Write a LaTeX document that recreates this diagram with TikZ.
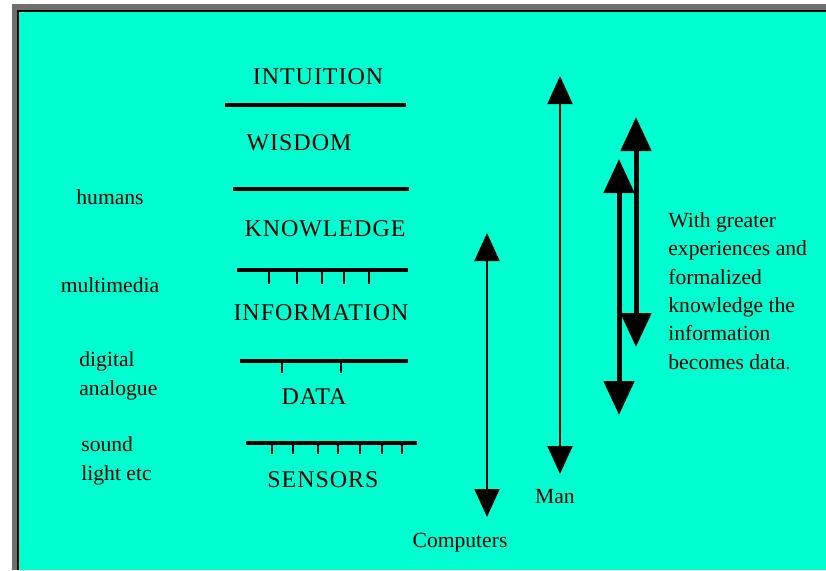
\documentclass[tikz,border=0pt]{standalone}
\usepackage{fontspec}
\setmainfont{Liberation Serif}
\newfontfamily\capsfont[LetterSpace=4]{Liberation Serif}
\usetikzlibrary{arrows.meta}
\definecolor{screencyan}{RGB}{0,255,208}
\definecolor{framegray}{RGB}{110,110,110}
\tikzset{
  layer/.style={font=\capsfont\fontsize{12}{14}\selectfont, inner sep=0pt},
  note/.style={font=\fontsize{10.8}{14.2}\selectfont, inner sep=0pt, align=left},
  bar/.style={line width=2pt},
  scaletick/.style={line width=0.75pt},
  thin arrow/.style={line width=1pt, {Triangle[length=14pt,width=12.5pt]}-{Triangle[length=14pt,width=12.5pt]}},
  thick arrow/.style={line width=2.5pt, {Triangle[length=17pt,width=15pt]}-{Triangle[length=17pt,width=15pt]}}
}
\begin{document}
\begin{tikzpicture}[x=0.5pt,y=-0.5pt]
  \useasboundingbox (0,0) rectangle (826,570);
  % window frame
  \fill[white] (0,0) rectangle (826,570);
  \fill[framegray] (12,4) rectangle (826,570);
  \fill[black] (17,10) rectangle (826,570);
  \fill[screencyan] (19,12) rectangle (826,570);

  % levels
  \node[layer] (intuition) at (318,77) {INTUITION};
  \draw[bar] (225,105) -- (406,105);
  \node[layer] (wisdom) at (299,143) {WISDOM};
  \draw[bar] (233,189) -- (409,189);
  \node[layer] (knowledge) at (325,229) {KNOWLEDGE};
  \draw[bar] (237,270) -- (408,270);
  \foreach \x in {269,297,322,344,369}
    \draw[scaletick] (\x,270) -- (\x,284);
  \node[layer] (information) at (321,313) {INFORMATION};
  \draw[bar] (240,361) -- (408,361);
  \foreach \x in {282,341}
    \draw[scaletick] (\x,361) -- (\x,373);
  \node[layer] (data) at (314,397) {DATA};
  \draw[bar] (246,443) -- (417,443);
  \foreach \x in {272,293,318,338,360,382,402}
    \draw[scaletick] (\x,443) -- (\x,454);
  \node[layer] (sensors) at (323,480) {SENSORS};

  % left side
  \node[note] (humans) at (110,197) {humans};
  \node[note] (multimedia) at (110,285) {multimedia};
  \node[note, anchor=west] (digital) at (79,376) {digital\\analogue};
  \node[note, anchor=west] (sound) at (81,461) {sound\\light etc};

  % arrows
  \coordinate (comptop) at (487,233);
  \coordinate (compbot) at (487,517);
  \draw[thin arrow] (comptop) -- (compbot);
  \node[note] (computers) at (460,543) {Computers};
  \coordinate (mantop) at (560,76);
  \coordinate (manbot) at (560,474);
  \draw[thin arrow] (mantop) -- (manbot);
  \node[note] (man) at (555,497) {Man};
  \coordinate (atop) at (636,117);
  \coordinate (abot) at (636,347);
  \draw[thick arrow] (atop) -- (abot);
  \coordinate (btop) at (619,159);
  \coordinate (bbot) at (619,415);
  \draw[thick arrow] (btop) -- (bbot);
  \node[note, anchor=west] (remark) at (668,291) {With greater\\experiences and\\formalized\\knowledge the\\information\\becomes data.};
\end{tikzpicture}
\end{document}
